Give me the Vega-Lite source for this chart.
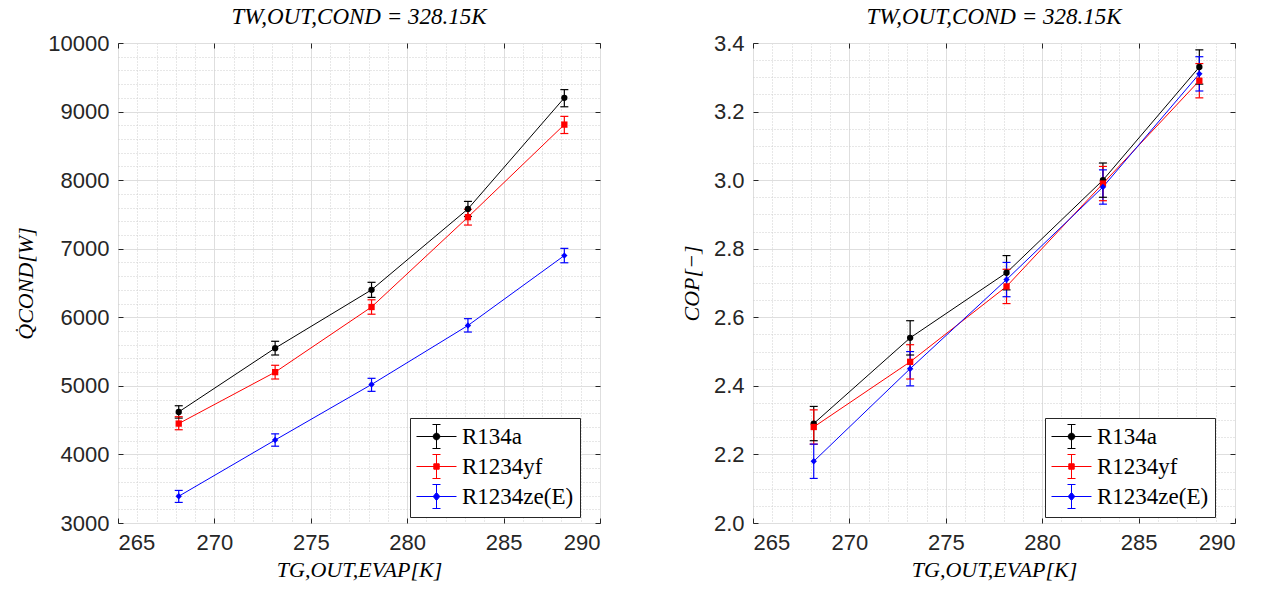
{
  "$schema": "https://vega.github.io/schema/vega-lite/v6.json",
  "background": "white",
  "padding": {"left": 14, "top": 5, "right": 5, "bottom": 5},
  "datasets": {
    "pts": [
      {"T": 268.15, "ref": "R134a", "Q": 4620, "Qlo": 4530, "Qhi": 4710, "COP": 2.29, "COPlo": 2.24, "COPhi": 2.34},
      {"T": 273.15, "ref": "R134a", "Q": 5550, "Qlo": 5450, "Qhi": 5650, "COP": 2.54, "COPlo": 2.49, "COPhi": 2.59},
      {"T": 278.15, "ref": "R134a", "Q": 6400, "Qlo": 6290, "Qhi": 6510, "COP": 2.73, "COPlo": 2.68, "COPhi": 2.78},
      {"T": 283.15, "ref": "R134a", "Q": 7580, "Qlo": 7470, "Qhi": 7690, "COP": 3.00, "COPlo": 2.95, "COPhi": 3.05},
      {"T": 288.15, "ref": "R134a", "Q": 9200, "Qlo": 9070, "Qhi": 9320, "COP": 3.33, "COPlo": 3.28, "COPhi": 3.38},
      {"T": 268.15, "ref": "R1234yf", "Q": 4450, "Qlo": 4360, "Qhi": 4550, "COP": 2.28, "COPlo": 2.23, "COPhi": 2.33},
      {"T": 273.15, "ref": "R1234yf", "Q": 5200, "Qlo": 5100, "Qhi": 5300, "COP": 2.47, "COPlo": 2.42, "COPhi": 2.52},
      {"T": 278.15, "ref": "R1234yf", "Q": 6150, "Qlo": 6045, "Qhi": 6255, "COP": 2.69, "COPlo": 2.64, "COPhi": 2.74},
      {"T": 283.15, "ref": "R1234yf", "Q": 7460, "Qlo": 7345, "Qhi": 7575, "COP": 2.99, "COPlo": 2.94, "COPhi": 3.04},
      {"T": 288.15, "ref": "R1234yf", "Q": 8810, "Qlo": 8680, "Qhi": 8930, "COP": 3.29, "COPlo": 3.24, "COPhi": 3.34},
      {"T": 268.15, "ref": "R1234ze(E)", "Q": 3390, "Qlo": 3300, "Qhi": 3475, "COP": 2.18, "COPlo": 2.13, "COPhi": 2.23},
      {"T": 273.15, "ref": "R1234ze(E)", "Q": 4210, "Qlo": 4120, "Qhi": 4300, "COP": 2.45, "COPlo": 2.40, "COPhi": 2.50},
      {"T": 278.15, "ref": "R1234ze(E)", "Q": 5020, "Qlo": 4920, "Qhi": 5110, "COP": 2.71, "COPlo": 2.66, "COPhi": 2.76},
      {"T": 283.15, "ref": "R1234ze(E)", "Q": 5880, "Qlo": 5785, "Qhi": 5980, "COP": 2.98, "COPlo": 2.93, "COPhi": 3.03},
      {"T": 288.15, "ref": "R1234ze(E)", "Q": 6900, "Qlo": 6795, "Qhi": 7005, "COP": 3.31, "COPlo": 3.26, "COPhi": 3.36}
    ]
  },
  "data": {"name": "pts"},
  "spacing": 78,
  "resolve": {"scale": {"x": "independent", "y": "independent", "color": "independent"}, "legend": {"color": "independent"}},
  "hconcat": [
    {
      "width": 482,
      "height": 480,
      "title": {"text": "TW,OUT,COND = 328.15K"},
      "resolve": {"axis": {"x": "independent", "y": "independent"}},
      "layer": [
        {
          "mark": {"type": "line", "strokeWidth": 1},
          "encoding": {
            "x": {"field": "T", "type": "quantitative", "scale": {"domain": [265, 290], "nice": false, "zero": false},
              "axis": {"orient": "bottom", "values": [266,267,268,269,271,272,273,274,276,277,278,279,281,282,283,284,286,287,288,289], "grid": true, "gridDash": [1, 2], "gridColor": "#cfcfcf", "labels": false, "ticks": false, "domain": false, "title": null}},
            "y": {"field": "Q", "type": "quantitative", "scale": {"domain": [3000, 10000], "nice": false, "zero": false},
              "axis": {"orient": "left", "values": [3200,3400,3600,3800,4200,4400,4600,4800,5200,5400,5600,5800,6200,6400,6600,6800,7200,7400,7600,7800,8200,8400,8600,8800,9200,9400,9600,9800], "grid": true, "gridDash": [1, 2], "gridColor": "#cfcfcf", "labels": false, "ticks": false, "domain": false, "title": null}},
            "color": {"field": "ref", "type": "nominal", "scale": {"domain": ["R134a", "R1234yf", "R1234ze(E)"], "range": ["#000000", "#ff0000", "#0000ff"]},
              "legend": {"orient": "none", "legendX": 292, "legendY": 375,
                "encode": {
                  "symbols": {
                    "update": {
                      "shape": {"signal": "datum.value == 'R134a' ? 'M-1,0H2.333M0.667,-1V1M0.333,-1H1M0.333,1H1M0.942,0A0.275,0.275,0,1,1,0.392,0A0.275,0.275,0,1,1,0.942,0Z' : datum.value == 'R1234yf' ? 'M-1,0H2.333M0.667,-1V1M0.333,-1H1M0.333,1H1M0.442,-0.225H0.892V0.225H0.442Z' : 'M-1,0H2.333M0.667,-1V1M0.333,-1H1M0.333,1H1M0.667,-0.33L0.942,0L0.667,0.33L0.392,0Z'"},
                      "fill": {"signal": "datum.value == 'R134a' ? '#000000' : datum.value == 'R1234yf' ? '#ff0000' : '#0000ff'"},
                      "stroke": {"signal": "datum.value == 'R134a' ? '#000000' : datum.value == 'R1234yf' ? '#ff0000' : '#0000ff'"},
                      "strokeWidth": {"value": 1},
                      "size": {"value": 576},
                      "opacity": {"value": 1},
                      "fillOpacity": {"value": 1}
                    }
                  }
                }}}
          }
        },
        {
          "mark": {"type": "rule", "strokeWidth": 1.2},
          "encoding": {
            "x": {"field": "T", "type": "quantitative",
              "axis": {"orient": "bottom", "values": [265, 270, 275, 280, 285, 290], "grid": true, "gridColor": "#dedede", "ticks": true, "tickSize": -5, "labelPadding": 14, "domain": false, "title": "TG,OUT,EVAP[K]", "titlePadding": 6}},
            "y": {"field": "Qlo", "type": "quantitative",
              "axis": {"orient": "left", "values": [3000, 4000, 5000, 6000, 7000, 8000, 9000, 10000], "format": "d", "grid": true, "gridColor": "#dedede", "ticks": true, "tickSize": -5, "labelPadding": 14, "domain": false, "title": "Q̇COND[W]", "titlePadding": 10}},
            "y2": {"field": "Qhi"},
            "color": {"field": "ref", "type": "nominal"}
          }
        },
        {
          "mark": {"type": "point", "shape": "stroke", "size": 64, "strokeWidth": 1.2, "filled": false, "opacity": 1},
          "encoding": {
            "x": {"field": "T", "type": "quantitative",
              "axis": {"orient": "top", "values": [265, 270, 275, 280, 285, 290], "grid": false, "labels": false, "ticks": true, "tickSize": -5, "domain": false, "title": null}},
            "y": {"field": "Qlo", "type": "quantitative",
              "axis": {"orient": "right", "values": [3000, 4000, 5000, 6000, 7000, 8000, 9000, 10000], "grid": false, "labels": false, "ticks": true, "tickSize": -5, "domain": false, "title": null}},
            "color": {"field": "ref", "type": "nominal"}
          }
        },
        {
          "mark": {"type": "point", "shape": "stroke", "size": 64, "strokeWidth": 1.2, "filled": false, "opacity": 1},
          "encoding": {
            "x": {"field": "T", "type": "quantitative", "axis": null},
            "y": {"field": "Qhi", "type": "quantitative", "axis": null},
            "color": {"field": "ref", "type": "nominal"}
          }
        },
        {
          "mark": {"type": "point", "filled": true, "size": 40, "opacity": 1},
          "encoding": {
            "x": {"field": "T", "type": "quantitative", "axis": null},
            "y": {"field": "Q", "type": "quantitative", "axis": null},
            "color": {"field": "ref", "type": "nominal"},
            "shape": {"condition": [{"test": "datum.ref == 'R134a'", "value": "circle"}, {"test": "datum.ref == 'R1234yf'", "value": "square"}], "value": "diamond"}
          }
        }
      ]
    },
    {
      "width": 482,
      "height": 480,
      "title": {"text": "TW,OUT,COND = 328.15K"},
      "resolve": {"axis": {"x": "independent", "y": "independent"}},
      "layer": [
        {
          "mark": {"type": "line", "strokeWidth": 1},
          "encoding": {
            "x": {"field": "T", "type": "quantitative", "scale": {"domain": [265, 290], "nice": false, "zero": false},
              "axis": {"orient": "bottom", "values": [266,267,268,269,271,272,273,274,276,277,278,279,281,282,283,284,286,287,288,289], "grid": true, "gridDash": [1, 2], "gridColor": "#cfcfcf", "labels": false, "ticks": false, "domain": false, "title": null}},
            "y": {"field": "COP", "type": "quantitative", "scale": {"domain": [2.0, 3.4], "nice": false, "zero": false},
              "axis": {"orient": "left", "values": [2.05,2.1,2.15,2.25,2.3,2.35,2.45,2.5,2.55,2.65,2.7,2.75,2.85,2.9,2.95,3.05,3.1,3.15,3.25,3.3,3.35], "grid": true, "gridDash": [1, 2], "gridColor": "#cfcfcf", "labels": false, "ticks": false, "domain": false, "title": null}},
            "color": {"field": "ref", "type": "nominal", "scale": {"domain": ["R134a", "R1234yf", "R1234ze(E)"], "range": ["#000000", "#ff0000", "#0000ff"]},
              "legend": {"orient": "none", "legendX": 292, "legendY": 375,
                "encode": {
                  "symbols": {
                    "update": {
                      "shape": {"signal": "datum.value == 'R134a' ? 'M-1,0H2.333M0.667,-1V1M0.333,-1H1M0.333,1H1M0.942,0A0.275,0.275,0,1,1,0.392,0A0.275,0.275,0,1,1,0.942,0Z' : datum.value == 'R1234yf' ? 'M-1,0H2.333M0.667,-1V1M0.333,-1H1M0.333,1H1M0.442,-0.225H0.892V0.225H0.442Z' : 'M-1,0H2.333M0.667,-1V1M0.333,-1H1M0.333,1H1M0.667,-0.33L0.942,0L0.667,0.33L0.392,0Z'"},
                      "fill": {"signal": "datum.value == 'R134a' ? '#000000' : datum.value == 'R1234yf' ? '#ff0000' : '#0000ff'"},
                      "stroke": {"signal": "datum.value == 'R134a' ? '#000000' : datum.value == 'R1234yf' ? '#ff0000' : '#0000ff'"},
                      "strokeWidth": {"value": 1},
                      "size": {"value": 576},
                      "opacity": {"value": 1},
                      "fillOpacity": {"value": 1}
                    }
                  }
                }}}
          }
        },
        {
          "mark": {"type": "rule", "strokeWidth": 1.2},
          "encoding": {
            "x": {"field": "T", "type": "quantitative",
              "axis": {"orient": "bottom", "values": [265, 270, 275, 280, 285, 290], "grid": true, "gridColor": "#dedede", "ticks": true, "tickSize": -5, "labelPadding": 14, "domain": false, "title": "TG,OUT,EVAP[K]", "titlePadding": 6}},
            "y": {"field": "COPlo", "type": "quantitative",
              "axis": {"orient": "left", "values": [2.0, 2.2, 2.4, 2.6, 2.8, 3.0, 3.2, 3.4], "format": ".1f", "grid": true, "gridColor": "#dedede", "ticks": true, "tickSize": -5, "labelPadding": 14, "domain": false, "title": "COP[−]", "titlePadding": 10}},
            "y2": {"field": "COPhi"},
            "color": {"field": "ref", "type": "nominal"}
          }
        },
        {
          "mark": {"type": "point", "shape": "stroke", "size": 64, "strokeWidth": 1.2, "filled": false, "opacity": 1},
          "encoding": {
            "x": {"field": "T", "type": "quantitative",
              "axis": {"orient": "top", "values": [265, 270, 275, 280, 285, 290], "grid": false, "labels": false, "ticks": true, "tickSize": -5, "domain": false, "title": null}},
            "y": {"field": "COPlo", "type": "quantitative",
              "axis": {"orient": "right", "values": [2.0, 2.2, 2.4, 2.6, 2.8, 3.0, 3.2, 3.4], "grid": false, "labels": false, "ticks": true, "tickSize": -5, "domain": false, "title": null}},
            "color": {"field": "ref", "type": "nominal"}
          }
        },
        {
          "mark": {"type": "point", "shape": "stroke", "size": 64, "strokeWidth": 1.2, "filled": false, "opacity": 1},
          "encoding": {
            "x": {"field": "T", "type": "quantitative", "axis": null},
            "y": {"field": "COPhi", "type": "quantitative", "axis": null},
            "color": {"field": "ref", "type": "nominal"}
          }
        },
        {
          "mark": {"type": "point", "filled": true, "size": 40, "opacity": 1},
          "encoding": {
            "x": {"field": "T", "type": "quantitative", "axis": null},
            "y": {"field": "COP", "type": "quantitative", "axis": null},
            "color": {"field": "ref", "type": "nominal"},
            "shape": {"condition": [{"test": "datum.ref == 'R134a'", "value": "circle"}, {"test": "datum.ref == 'R1234yf'", "value": "square"}], "value": "diamond"}
          }
        }
      ]
    }
  ],
  "config": {
    "view": {"stroke": "#262626", "strokeWidth": 1},
    "title": {"font": "Liberation Serif", "fontStyle": "italic", "fontSize": 23, "fontWeight": "normal", "color": "#000000", "offset": 3},
    "axis": {"labelFont": "Liberation Sans", "labelFontSize": 22, "labelColor": "#262626", "titleFont": "Liberation Serif", "titleFontStyle": "italic", "titleFontWeight": "normal", "titleFontSize": 22, "titleColor": "#000000", "tickColor": "#262626", "tickWidth": 1},
    "legend": {
      "title": null,
      "fillColor": "white",
      "strokeColor": "#262626",
      "padding": 6,
      "labelFont": "Liberation Serif",
      "labelFontSize": 23,
      "labelColor": "#000000",
      "labelOffset": 21,
      "symbolSize": 576,
      "rowPadding": 1,
      "symbolStrokeWidth": 1,
      "symbolOpacity": 1
    }
  }
}
